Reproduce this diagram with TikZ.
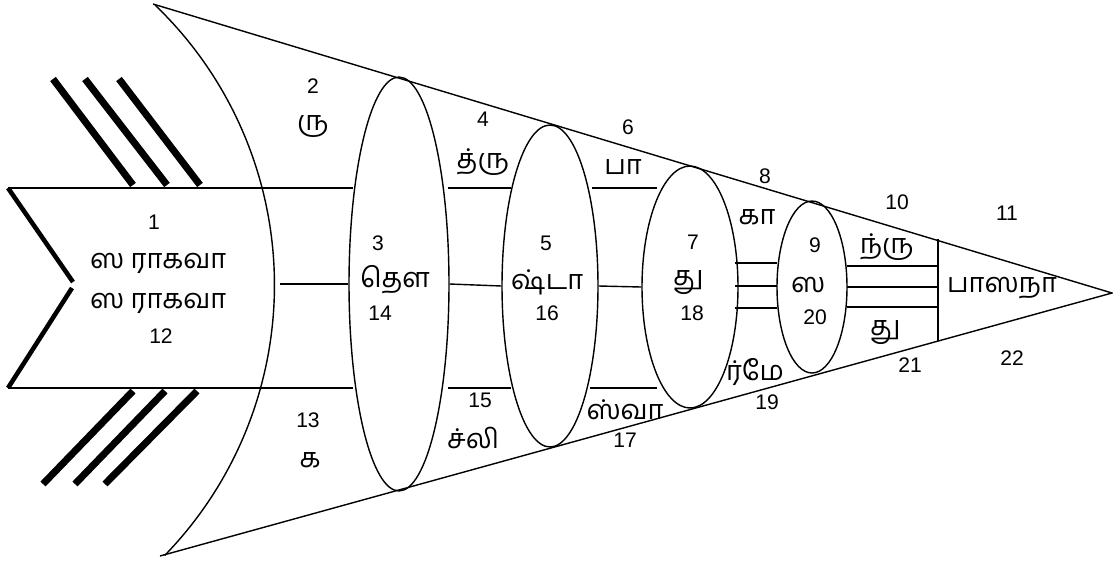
\documentclass[tikz,border=0pt]{standalone}
\usepackage{fontspec}
\setmainfont{Liberation Sans}
\newfontfamily\tamilfont[Script=Tamil]{Hind Madurai}
\usetikzlibrary{shapes.geometric}
\tikzset{
  fishpicture/.style={x=0.02cm, y=-0.02cm},
  fishline/.style={draw, line width=0.8pt},
  fishgill/.style={draw, line width=2.6pt},
  fishfin/.style={draw, line width=4pt},
  fishlobe/.style={ellipse, draw, line width=0.8pt, inner sep=0pt},
  fishnum/.style={font=\fontsize{12}{14}\selectfont, inner sep=1pt},
  fishword/.style={font=\tamilfont\fontsize{15.5}{17}\selectfont, inner sep=1pt}
}

\begin{document}
\begin{tikzpicture}[fishpicture]
\useasboundingbox (0,0) rectangle (1113,562);
% head
\draw[fishline] (153,4) -- (1112,293) -- (160,556);
\draw[fishline] (155,5) arc[start angle=-46.2, end angle=44.2, radius=388];
\node[fishlobe, minimum width=2cm, minimum height=8.28cm] (e1) at (399,284) {};
\node[fishlobe, minimum width=1.92cm, minimum height=6.44cm] (e2) at (550,286) {};
\node[fishlobe, minimum width=1.92cm, minimum height=4.84cm] (e3) at (690,287) {};
\node[fishlobe, minimum width=1.4cm, minimum height=3.44cm] (e4) at (812,287) {};
\coordinate (bar top) at (938,239);
\coordinate (bar bottom) at (938,341);
\draw[fishline] (bar top) -- (bar bottom);
% body
\draw[fishline] (8,188) -- (353,188);
\draw[fishline] (8,388) -- (353,388);
\draw[fishgill] (8,188) -- (73,282);
\draw[fishgill] (72,288) -- (8,388);
\foreach \xa/\xb in {53/133, 85/167, 119/200}
  \draw[fishfin] (\xa,79) -- (\xb,185);
\foreach \xa/\xb in {133/43, 165/75, 197/105}
  \draw[fishfin] (\xa,391) -- (\xb,484);
% spine
\coordinate (spine) at (280,284);
\draw[fishline] (spine) -- (e1.west);
\draw[fishline] (e1.east) -- (e2.west);
\draw[fishline] (e2.east) -- (e3.west);
\draw[fishline] (448,188) -- (511,188);
\draw[fishline] (448,388) -- (511,388);
\draw[fishline] (592,188) -- (657,188);
\draw[fishline] (590,388) -- (657,388);
\foreach \y in {263,286,308}
  \draw[fishline] (735,\y) -- (777,\y);
\foreach \y in {266,287,307}
  \draw[fishline] (847,\y) -- (938,\y);
% labels
\node[fishnum] (n1) at (154,222) {1};
\node[fishword] (w1) at (158,263) {ஸ ராகவா};
\node[fishword] (w12) at (158,303) {ஸ ராகவா};
\node[fishnum] (n12) at (161,336) {12};
\node[fishnum] (n2) at (313,86) {2};
\node[fishword] (w2) at (313,127) {ரு};
\node[fishnum] (n13) at (308,420) {13};
\node[fishword] (w13) at (310,460) {க};
\node[fishnum] (n3) at (378,243) {3};
\node[fishword] (w3) at (395,280) {தௌ};
\node[fishnum] (n14) at (380,313) {14};
\node[fishnum] (n4) at (483,119) {4};
\node[fishword] (w4) at (483,162) {த்ரு};
\node[fishnum] (n15) at (480,400) {15};
\node[fishword] (w15) at (473,438) {ச்லி};
\node[fishnum] (n5) at (546,243) {5};
\node[fishword] (w5) at (547,282) {ஷ்டா};
\node[fishnum] (n16) at (547,313) {16};
\node[fishnum] (n6) at (628,127) {6};
\node[fishword] (w6) at (623,167) {பா};
\node[fishword] (w17) at (625,410) {ஸ்வா};
\node[fishnum] (n17) at (625,440) {17};
\node[fishnum] (n7) at (693,242) {7};
\node[fishword] (w7) at (688,283) {து};
\node[fishnum] (n18) at (692,313) {18};
\node[fishnum] (n8) at (765,176) {8};
\node[fishword] (w8) at (757,217) {கா};
\node[fishword] (w19) at (755,372) {ர்மே};
\node[fishnum] (n19) at (767,402) {19};
\node[fishnum] (n9) at (815,245) {9};
\node[fishword] (w9) at (808,285) {ஸ};
\node[fishnum] (n20) at (815,317) {20};
\node[fishnum] (n10) at (897,202) {10};
\node[fishword] (w10) at (887,247) {ந்ரு};
\node[fishword] (w21) at (885,333) {து};
\node[fishnum] (n21) at (910,365) {21};
\node[fishnum] (n11) at (1007,213) {11};
\node[fishword] (w11) at (1002,288) {பாஸநா};
\node[fishnum] (n22) at (1012,358) {22};
\end{tikzpicture}
\end{document}
